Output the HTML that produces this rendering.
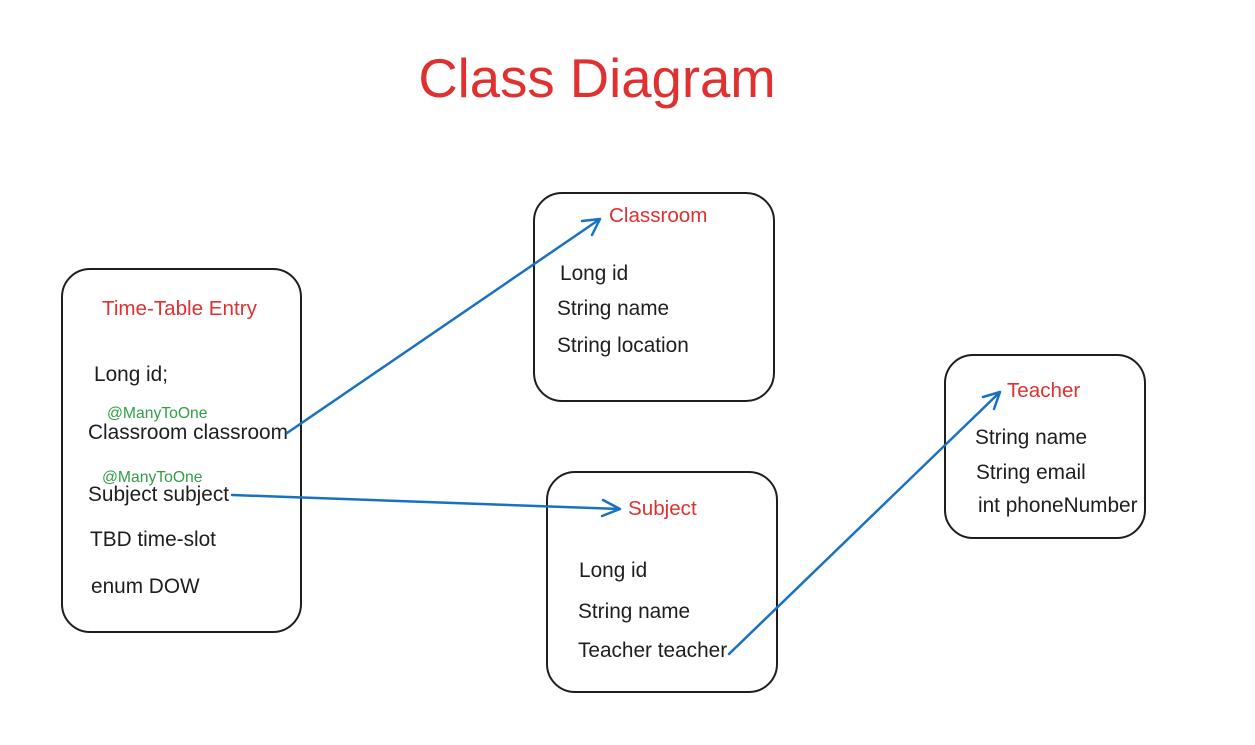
<!DOCTYPE html>
<html><head><meta charset="utf-8"><style>
html,body{margin:0;padding:0;background:#fff;}
svg{display:block;}
text{font-family:"Liberation Sans",Arial,sans-serif;}
.t{fill:#1e1e1e;font-size:20.8px;}
.r{fill:#e03131;font-size:20.6px;}
.g{fill:#2f9e44;font-size:15.7px;}
.b{fill:none;stroke:#1e1e1e;stroke-width:2;}
.a{fill:none;stroke:#1971c2;stroke-width:2.5;stroke-linecap:round;stroke-linejoin:round;}
</style></head><body>
<svg width="1255" height="745" viewBox="0 0 1255 745">
<text x="597" y="97" text-anchor="middle" font-size="54.5" fill="#e03131">Class Diagram</text>

<rect class="b" x="62" y="269" width="239" height="363" rx="28"/>
<text class="r" x="102" y="315">Time-Table Entry</text>
<text class="t" x="94" y="381">Long id;</text>
<text class="g" x="107" y="418">@ManyToOne</text>
<text class="t" x="88" y="439">Classroom classroom</text>
<text class="g" x="102" y="482">@ManyToOne</text>
<text class="t" x="88" y="501">Subject subject</text>
<text class="t" x="90" y="546">TBD time-slot</text>
<text class="t" x="91" y="593">enum DOW</text>

<rect class="b" x="534" y="193" width="240" height="208" rx="28"/>
<text class="r" x="609" y="222">Classroom</text>
<text class="t" x="560" y="280">Long id</text>
<text class="t" x="557" y="315">String name</text>
<text class="t" x="557" y="352">String location</text>

<rect class="b" x="547" y="472" width="230" height="220" rx="28"/>
<text class="r" x="628" y="515">Subject</text>
<text class="t" x="579" y="577">Long id</text>
<text class="t" x="578" y="618">String name</text>
<text class="t" x="578" y="657">Teacher teacher</text>

<rect class="b" x="945" y="355" width="200" height="183" rx="28"/>
<text class="r" x="1007" y="397">Teacher</text>
<text class="t" x="975" y="444">String name</text>
<text class="t" x="976" y="479">String email</text>
<text class="t" x="978" y="512">int phoneNumber</text>

<path class="a" d="M287 433 L600 219 M600 219 L582 221 M600 219 L592 235"/>
<path class="a" d="M232 495 L620 509 M620 509 L603 500 M620 509 L602 516"/>
<path class="a" d="M729 654 L1000 392 M1000 392 L983 397 M1000 392 L994 409"/>
</svg>
</body></html>
